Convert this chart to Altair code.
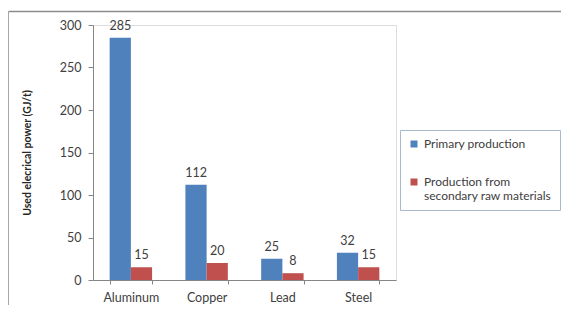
import altair as alt
import pandas as pd

metals = ["Aluminum", "Copper", "Lead", "Steel"]
primary = [285, 112, 25, 32]
secondary = [15, 20, 8, 15]
series = ["Primary production", "Production from secondary raw materials"]
colors = ["#4F81BD", "#C0504D"]
y_ticks = [0, 50, 100, 150, 200, 250, 300]

rows = []
for m, p, s in zip(metals, primary, secondary):
    rows.append({"metal": m, "series": series[0], "value": p})
    rows.append({"metal": m, "series": series[1], "value": s})
df = pd.DataFrame(rows)

FONT = "Lato"
AX = "#868686"
TXT = "#404040"
FS = 12.5

x = alt.X(
    "metal:N", sort=metals, title=None,
    scale=alt.Scale(paddingInner=0.44, paddingOuter=0.22),
    axis=alt.Axis(labelAngle=0, tickBand="extent", domainColor=AX, tickColor=AX,
                  tickSize=4, labelPadding=7, labelFontSize=FS, labelColor=TXT,
                  labelFont=FONT, grid=False),
)
y = alt.Y(
    "value:Q", title="Used elecrical power (GJ/t)",
    scale=alt.Scale(domain=[0, 300], nice=False),
    axis=alt.Axis(values=y_ticks, grid=False, domainColor=AX, tickColor=AX, tickSize=5,
                  labelPadding=7, labelFontSize=FS, labelColor=TXT, labelFont=FONT,
                  titleFont=FONT, titleFontSize=10.5, titleFontWeight="bold",
                  titleColor="#262626", titleAngle=-90, titleX=-66, titleY=127.5,
                  titleAlign="center", titleBaseline="middle"),
)
xo = alt.XOffset("series:N", sort=series, scale=alt.Scale(paddingInner=0, paddingOuter=0))

color = alt.Color(
    "series:N", sort=series,
    scale=alt.Scale(domain=series, range=colors),
    legend=alt.Legend(
        orient="none", legendX=307, legendY=105, title=None,
        strokeColor="#A9B8CC", fillColor="white", padding=8,
        symbolType="square", symbolSize=49, symbolStrokeWidth=0,
        labelFont=FONT, labelFontSize=12, labelColor=TXT, labelLimit=300,
        labelOffset=4, rowPadding=26,
        labelExpr="datum.label == 'Primary production' ? datum.label : ['Production from', 'secondary raw materials']",
    ),
)

base = alt.Chart(df)
bars = base.mark_bar().encode(x=x, y=y, xOffset=xo, color=color)
labels = base.mark_text(baseline="bottom", dy=-5, font=FONT, fontSize=FS, color=TXT).encode(
    x=alt.X("metal:N", sort=metals), xOffset=xo, y="value:Q", text="value:Q"
)

one = alt.Data(values=[{"k": 1}])
left_border = alt.Chart(one).mark_rule(color="#A6A6A6", strokeWidth=1).encode(
    x=alt.value(-84.5), y=alt.value(-13.5), y2=alt.value(300)
)
top_border = alt.Chart(one).mark_rule(color="#8C8C8C", strokeWidth=1.5).encode(
    x=alt.value(-84.5), x2=alt.value(600), y=alt.value(-13.5)
)

chart = alt.layer(left_border, top_border, bars, labels).properties(
    width=303, height=255,
    autosize=alt.AutoSizeParams(type="none"),
    padding={"left": 85, "top": 17, "right": 165, "bottom": 25},
).configure_view(stroke=None).configure(background="white")

chart.save("out.html", embed_options={"renderer": "svg", "actions": False})
